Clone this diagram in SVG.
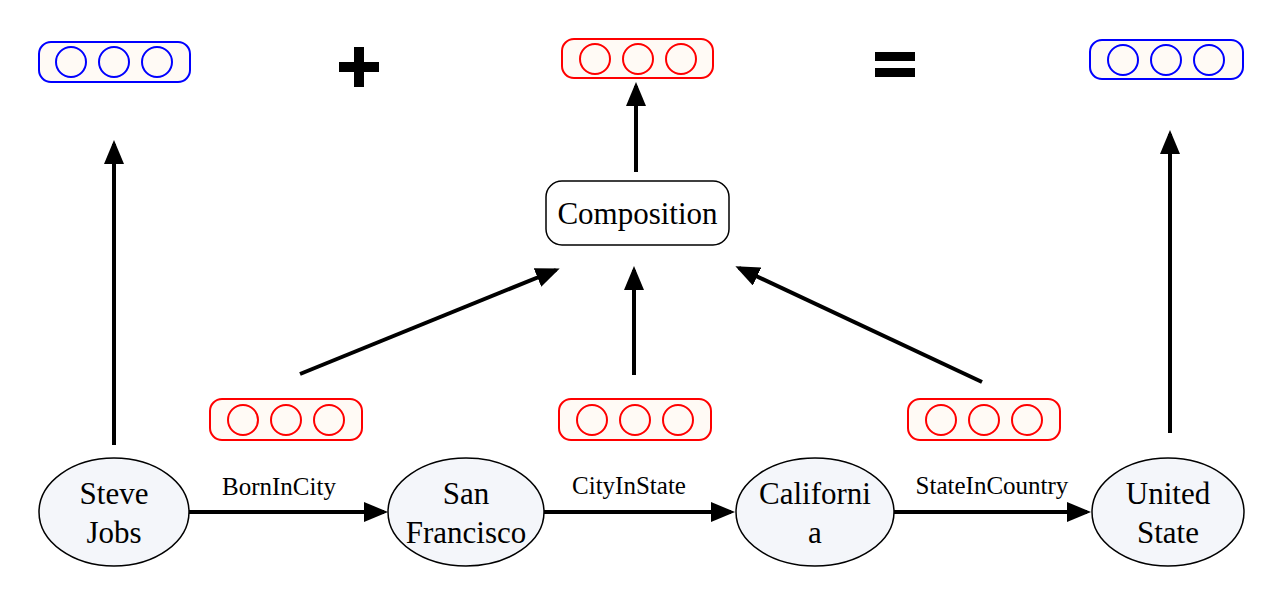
<svg xmlns="http://www.w3.org/2000/svg" width="1283" height="604" viewBox="0 0 1283 604">
<style>
.vb{fill:#fffaf5;stroke:#00f;stroke-width:2}
.vc{fill:none;stroke:#00f;stroke-width:2}
.rb{fill:#fffaf5;stroke:#f00;stroke-width:2}
.rc{fill:none;stroke:#f00;stroke-width:2}
.el{fill:#f4f6fa;stroke:#000;stroke-width:1.5}
.t{font-family:"Liberation Serif",serif;font-size:31px;text-anchor:middle;fill:#000}
.l{font-family:"Liberation Serif",serif;font-size:25px;text-anchor:middle;fill:#000}
.c line{stroke:#000;stroke-width:4;marker-end:url(#ah)}
</style>
<defs>
<marker id="ah" markerWidth="6" markerHeight="5" refX="5" refY="2.5" orient="auto" markerUnits="strokeWidth"><path d="M0,0L6,2.5L0,5z" fill="#000"/></marker>
</defs>
<rect width="1283" height="604" fill="#fff"/>
<g id="vec-steve"><rect class="vb" x="39" y="42" width="151" height="40" rx="12"/><circle class="vc" cx="71" cy="62" r="15"/><circle class="vc" cx="114" cy="62" r="15"/><circle class="vc" cx="157" cy="62" r="15"/></g>
<g id="plus"><rect x="339" y="62" width="40" height="10"/><rect x="354" y="47" width="10" height="40"/></g>
<g id="vec-comp"><rect class="rb" x="562" y="39" width="151" height="39" rx="12"/><circle class="rc" cx="595" cy="59" r="15"/><circle class="rc" cx="638" cy="59" r="15"/><circle class="rc" cx="681" cy="59" r="15"/></g>
<g id="equals"><rect x="875" y="52" width="40" height="9"/><rect x="875" y="68" width="40" height="9"/></g>
<g id="vec-us"><rect class="vb" x="1090" y="40" width="153" height="39" rx="12"/><circle class="vc" cx="1123" cy="60" r="15"/><circle class="vc" cx="1166" cy="60" r="15"/><circle class="vc" cx="1209" cy="60" r="15"/></g>
<g id="composition"><rect x="546" y="181" width="183" height="64" rx="16" fill="#fff" stroke="#000" stroke-width="1.5"/><text class="t" x="637.5" y="224">Composition</text></g>
<g id="rel1"><rect class="rb" x="210" y="399" width="152" height="41" rx="12"/><circle class="rc" cx="243" cy="420" r="15"/><circle class="rc" cx="286" cy="420" r="15"/><circle class="rc" cx="329" cy="420" r="15"/></g>
<g id="rel2"><rect class="rb" x="559" y="399" width="152" height="41" rx="12"/><circle class="rc" cx="592" cy="420" r="15"/><circle class="rc" cx="635" cy="420" r="15"/><circle class="rc" cx="678" cy="420" r="15"/></g>
<g id="rel3"><rect class="rb" x="908" y="399" width="152" height="41" rx="12"/><circle class="rc" cx="941" cy="420" r="15"/><circle class="rc" cx="984" cy="420" r="15"/><circle class="rc" cx="1027" cy="420" r="15"/></g>
<g id="steve"><ellipse class="el" cx="114" cy="512" rx="75" ry="54"/><text class="t" x="114" y="504">Steve</text><text class="t" x="114" y="543">Jobs</text></g>
<g id="sf"><ellipse class="el" cx="466" cy="512" rx="78" ry="54"/><text class="t" x="466" y="504">San</text><text class="t" x="466" y="543">Francisco</text></g>
<g id="ca"><ellipse class="el" cx="815" cy="512" rx="79" ry="54"/><text class="t" x="815" y="504">Californi</text><text class="t" x="815" y="543">a</text></g>
<g id="us"><ellipse class="el" cx="1168" cy="512" rx="76" ry="54"/><text class="t" x="1168" y="504">United</text><text class="t" x="1168" y="543">State</text></g>
<g class="c" id="connectors">
<line x1="189" y1="512" x2="384" y2="512"/>
<line x1="544" y1="512" x2="731" y2="512"/>
<line x1="894" y1="512" x2="1087" y2="512"/>
<line x1="114" y1="445" x2="114" y2="144"/>
<line x1="1170" y1="433" x2="1170" y2="134"/>
<line x1="636" y1="172" x2="636" y2="86"/>
<line x1="300" y1="374" x2="556" y2="270"/>
<line x1="634" y1="375" x2="634" y2="270"/>
<line x1="982" y1="382" x2="739" y2="268"/>
</g>
<text class="l" x="279" y="495">BornInCity</text>
<text class="l" x="629" y="494">CityInState</text>
<text class="l" x="992" y="494">StateInCountry</text>
</svg>
